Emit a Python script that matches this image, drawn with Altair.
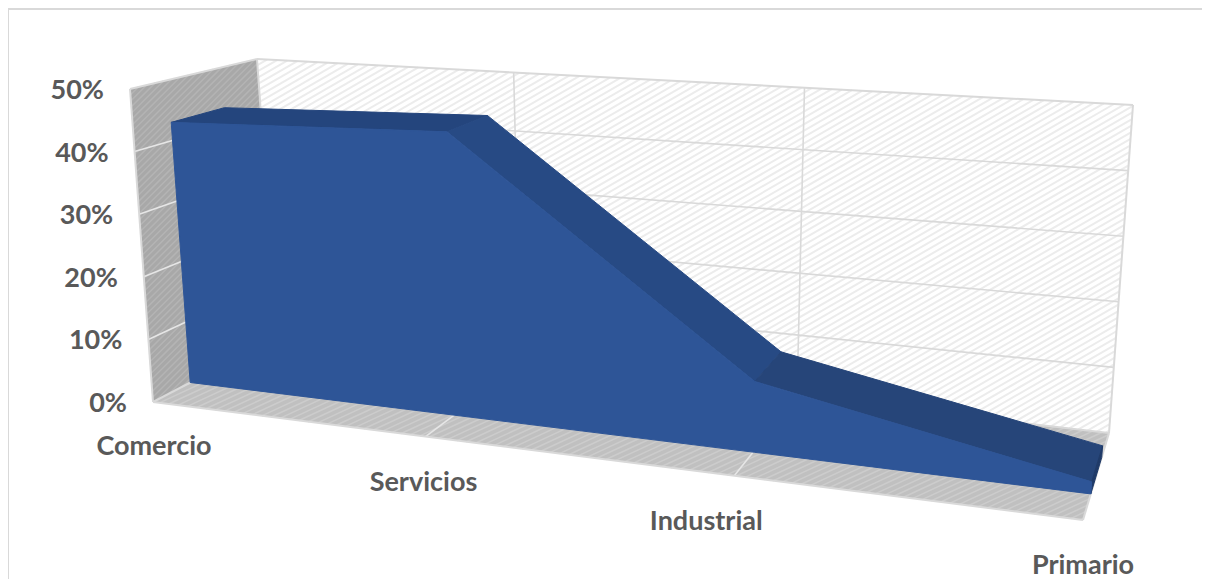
import math
import altair as alt
import pandas as pd

# --- chart values
categories = ["Comercio", "Servicios", "Industrial", "Primario"]
shares = [0.43, 0.445, 0.105, 0.017]
y_ticks = [0.0, 0.1, 0.2, 0.3, 0.4, 0.5]
y_tick_labels = ["0%", "10%", "20%", "30%", "40%", "50%"]
cat_pos = [0.0, 0.293, 0.625, 1.0]

# --- 3-D view: pixel position of the eight corners of the plot box
BOX = {
    (0, 0, 0): (153, 402), (0, 1, 0): (130, 89), (0, 0, 1): (277, 337), (0, 1, 1): (257, 59),
    (1, 0, 0): (1083, 520), (1, 1, 0): (1110, 151), (1, 0, 1): (1109, 433), (1, 1, 1): (1133, 105),
}
VMAX = 0.5
D_FRONT, D_BACK = 0.3, 0.72


def proj(u, value, d):
    v = value / VMAX
    px = py = 0.0
    for (a, b, c), (X, Y) in BOX.items():
        w = (u if a else 1 - u) * (v if b else 1 - v) * (d if c else 1 - d)
        px += w * X
        py += w * Y
    return px, py


def slices(poly):
    xs = sorted({p[0] for p in poly})
    rows = []
    n = len(poly)
    for x in xs:
        ys = []
        for i in range(n):
            (x0, y0), (x1, y1) = poly[i], poly[(i + 1) % n]
            if min(x0, x1) <= x <= max(x0, x1):
                if x0 == x1:
                    ys += [y0, y1]
                else:
                    ys.append(y0 + (y1 - y0) * (x - x0) / (x1 - x0))
        rows.append({"x": x, "y": min(ys), "y2": max(ys)})
    return rows


X = alt.Scale(domain=[8, 1202], range=[0, 1194])
Y = alt.Scale(domain=[579, 8])


def fill_layer(poly, color, stroke=False):
    kw = dict(stroke=color, strokeWidth=1) if stroke else dict(strokeWidth=0)
    return alt.Chart(pd.DataFrame(slices(poly))).mark_area(color=color, opacity=1, **kw).encode(
        x=alt.X("x:Q", scale=X, axis=None),
        y=alt.Y("y:Q", scale=Y, axis=None),
        y2="y2:Q",
    )


def seg_layer(segs, color, width):
    df = pd.DataFrame([{"x": a[0], "y": a[1], "x2": b[0], "y2": b[1]} for a, b in segs])
    return alt.Chart(df).mark_rule(color=color, strokeWidth=width).encode(
        x=alt.X("x:Q", scale=X, axis=None),
        y=alt.Y("y:Q", scale=Y, axis=None),
        x2="x2:Q",
        y2="y2:Q",
    )


def hatch(poly, angle_deg, spacing):
    """Parallel texture lines clipped to a convex polygon."""
    a = math.radians(angle_deg)
    dx, dy = math.cos(a), -math.sin(a)
    nx, ny = -dy, dx
    proj_n = [p[0] * nx + p[1] * ny for p in poly]
    out = []
    t = min(proj_n)
    while t < max(proj_n):
        hits = []
        for i in range(len(poly)):
            p, q = poly[i], poly[(i + 1) % len(poly)]
            s0, s1 = proj_n[i], proj_n[(i + 1) % len(poly)]
            if (s0 - t) * (s1 - t) < 0:
                f = (t - s0) / (s1 - s0)
                hits.append((p[0] + (q[0] - p[0]) * f, p[1] + (q[1] - p[1]) * f))
        if len(hits) >= 2:
            out.append((hits[0], hits[1]))
        t += spacing
    return out


back = [proj(0, VMAX, 1), proj(1, VMAX, 1), proj(1, 0, 1), proj(0, 0, 1)]
side = [proj(0, VMAX, 0), proj(0, VMAX, 1), proj(0, 0, 1), proj(0, 0, 0)]
floor = [proj(0, 0, 0), proj(0, 0, 1), proj(1, 0, 1), proj(1, 0, 0)]

EDGE = "#d9d9d9"
layers = [
    # outer frame of the picture
    seg_layer([((8, 9), (1202, 9)), ((8, 9), (8, 579))], EDGE, 2),
    # walls and their textures
    fill_layer(back, "#ffffff"),
    seg_layer(hatch(back, 30, 5.5), "#ececec", 2),
    fill_layer(side, "#a8a8a8"),
    seg_layer(hatch(side, 45, 4.5), "#b4b4b4", 1.5),
    fill_layer(floor, "#c0c0c0"),
    seg_layer(hatch(floor, 25, 5), "#cccccc", 1.5),
]

# gridlines
layers.append(seg_layer([(proj(0, v, 1), proj(1, v, 1)) for v in y_ticks[1:-1]], "#d9d9d9", 1.6))
layers.append(seg_layer([(proj(u, 0, 1), proj(u, VMAX, 1)) for u in cat_pos[1:-1]], "#d9d9d9", 1.6))
layers.append(seg_layer([(proj(0, v, 0), proj(0, v, 1)) for v in y_ticks[1:-1]], "#e6e6e6", 1.6))
layers.append(seg_layer([(proj(u, 0, 0), proj(u, 0, 1)) for u in cat_pos[1:-1]], "#e6e6e6", 1.6))

# box edges
edge_segs = [(back[i], back[(i + 1) % 4]) for i in range(4)]
edge_segs += [(side[0], side[1]), (side[3], side[0]), (side[2], side[3])]
edge_segs += [(floor[0], floor[3]), (floor[3], floor[2])]
layers.append(seg_layer(edge_segs, EDGE, 2))

# the 3-D area: top surfaces, then front face
front_top = [proj(u, s, D_FRONT) for u, s in zip(cat_pos, shares)]
back_top = [proj(u, s, D_BACK) for u, s in zip(cat_pos, shares)]
front_face = front_top + [proj(1, 0, D_FRONT), proj(0, 0, D_FRONT)]
top_shades = ["#24457d", "#274a84", "#264579"]
for i, shade in enumerate(top_shades):
    layers.append(fill_layer([front_top[i], back_top[i], back_top[i + 1], front_top[i + 1]], shade, True))
layers.append(fill_layer([front_top[3], back_top[3], proj(1, 0, D_BACK), proj(1, 0, D_FRONT)], "#1f3a68", True))
layers.append(fill_layer(front_face, "#2e5597", True))

# text
FONT = dict(font="Lato", fontSize=27, fontWeight="bold", color="#595959")
tick_rows = []
for v, lab in zip(y_ticks, y_tick_labels):
    px, py = proj(0, v, 0)
    tick_rows.append({"x": px - 26, "y": py + 2, "t": lab})
layers.append(
    alt.Chart(pd.DataFrame(tick_rows)).mark_text(align="right", baseline="middle", **FONT).encode(
        x=alt.X("x:Q", scale=X, axis=None), y=alt.Y("y:Q", scale=Y, axis=None), text="t:N"
    )
)
cat_offsets = [(1, 45), (-2, 46), (-28, 46), (0, 46)]
cat_rows = []
for c, u, (ox, oy) in zip(categories, cat_pos, cat_offsets):
    px, py = proj(u, 0, 0)
    cat_rows.append({"x": px + ox, "y": py + oy, "t": c})
layers.append(
    alt.Chart(pd.DataFrame(cat_rows)).mark_text(align="center", baseline="middle", **FONT).encode(
        x=alt.X("x:Q", scale=X, axis=None), y=alt.Y("y:Q", scale=Y, axis=None), text="t:N"
    )
)

chart = alt.layer(*layers).properties(
    width=1194, height=571, padding=0, autosize=alt.AutoSizeParams(type="none"),
    background="#ffffff",
).configure_view(stroke=None)

chart.save("out.html", embed_options={"renderer": "svg", "actions": False})
